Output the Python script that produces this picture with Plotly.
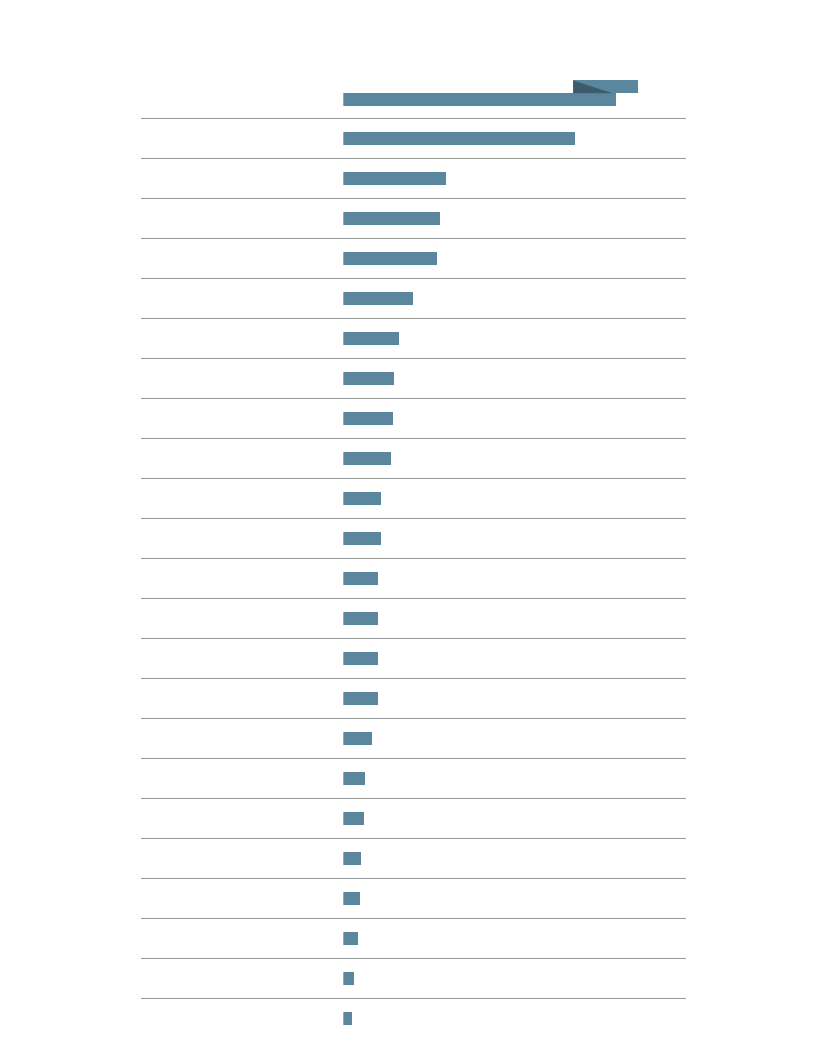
import plotly.graph_objects as go

# Row identifiers (the reference shows no text labels)
rows = list(range(1, 25))
# Bar values (arbitrary units, axis 0..100)
values = [79.8, 67.8, 30.2, 28.2, 27.3, 20.3, 16.2, 15.0, 14.6, 14.1,
          11.1, 11.1, 10.1, 10.1, 10.1, 10.1, 8.6, 6.4, 6.1, 5.2,
          4.9, 4.4, 3.1, 2.6]
# Overflow ("folded") segment of the first bar
overflow_start = 67.1
overflow_end = 86.2

BAR = "#5b879e"
DARK = "#3c5b6e"
BW = 0.32
NUDGE = 0.018      # small downward nudge of bars within their rows
FIRST_NUDGE = 0.042

ypos = [i + (FIRST_NUDGE if i == 0 else NUDGE) for i in range(len(values))]

fig = go.Figure()
fig.add_trace(go.Bar(
    x=values, y=ypos, orientation="h", width=BW,
    marker=dict(color=BAR, line=dict(width=0)),
    hoverinfo="skip", showlegend=False,
))
# Overflow piece above the first bar
fig.add_trace(go.Bar(
    x=[overflow_end - overflow_start], base=[overflow_start], y=[ypos[0] - BW],
    orientation="h", width=BW,
    marker=dict(color=BAR, line=dict(width=0)),
    hoverinfo="skip", showlegend=False,
))
# Dark fold triangle
fig.add_trace(go.Scatter(
    x=[overflow_start, overflow_start, values[0] - 1.2, overflow_start],
    y=[ypos[0] - BW * 1.5, ypos[0] - BW * 0.5, ypos[0] - BW * 0.5, ypos[0] - BW * 1.5],
    mode="lines", fill="toself", fillcolor=DARK, line=dict(width=0, color=DARK),
    hoverinfo="skip", showlegend=False,
))

shapes = []
for i in range(len(values) - 1):
    yy = i + 0.5 + 0.0125
    shapes.append(dict(type="line", xref="paper", yref="y",
                       x0=0, x1=1, y0=yy, y1=yy,
                       line=dict(color="#999999", width=1)))

fig.update_layout(
    width=830, height=1047,
    margin=dict(l=133, r=152, t=70, b=17),
    paper_bgcolor="white", plot_bgcolor="white",
    bargap=0, barmode="overlay",
    shapes=shapes,
    xaxis=dict(domain=[0.3712, 1], range=[0, 100], showgrid=False, zeroline=False,
               showticklabels=False, showline=False, ticks=""),
    yaxis=dict(range=[len(values) - 0.5, -0.5], showgrid=False, zeroline=False,
               showticklabels=False, showline=False, ticks=""),
)

fig.write_html("out.html")
